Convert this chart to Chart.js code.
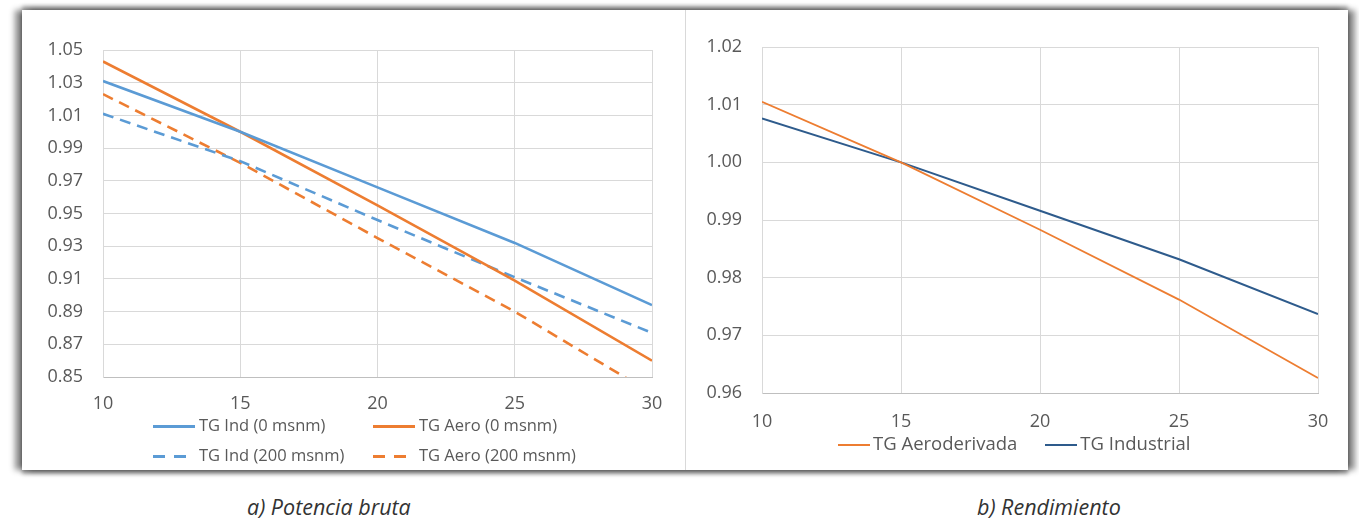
<!DOCTYPE html>
<html>
<head>
<meta charset="utf-8">
<script src="https://cdn.jsdelivr.net/npm/chart.js@4/dist/chart.umd.min.js"></script>
<style>
  body { margin: 0; background: #fff; width: 1359px; height: 519px; position: relative; overflow: hidden; font-family: "Open Sans", sans-serif; }
  #frame { position: absolute; left: 22px; top: 10px; width: 1326px; height: 460px; background: #fff;
           box-shadow: -7px 0 6px rgba(0,0,0,.45), 7px 0 6px rgba(0,0,0,.45), 0 -4px 4px rgba(0,0,0,.3), 0 4px 4px rgba(0,0,0,.35); }
  #divider { position: absolute; left: 663px; top: 0; width: 1px; height: 460px; background: #d9d9d9; }
  .box { position: absolute; top: 0; height: 460px; }
  .lg { position: absolute; color: #595959; white-space: nowrap; }
  .item { position: absolute; height: 30px; line-height: 30px; }
  .sample { display: inline-block; vertical-align: middle; height: 3px; margin-right: 4px; }
  .cap { position: absolute; top: 492px; font-size: 21.5px; line-height: 30px; font-style: italic; color: #333; }
</style>
</head>
<body>
<div id="frame">
  <div class="box" style="left:0;width:663px"><canvas id="chartA"></canvas></div>
  <div id="divider"></div>
  <div class="box" style="left:664px;width:662px"><canvas id="chartB"></canvas></div>
</div>
<div class="lg" id="legendA"></div>
<div class="lg" id="legendB"></div>
<div class="cap" style="left:247px">a) Potencia bruta</div>
<div class="cap" style="left:977px">b) Rendimiento</div>

<script>
// ---------- datos ----------
var temps = [10, 15, 20, 25, 30];

// a) Potencia bruta
var indSea   = [1.031, 1.000, 0.966, 0.932, 0.894];
var aeroSea  = [1.043, 1.000, 0.955, 0.909, 0.860];
var ind200   = [1.011, 0.982, 0.946, 0.911, 0.877];
var aero200  = [1.023, 0.981, 0.935, 0.890, 0.840];
var ticksA   = [0.85, 0.87, 0.89, 0.91, 0.93, 0.95, 0.97, 0.99, 1.01, 1.03, 1.05];

// b) Rendimiento
var aeroRend = [1.0105, 1.000, 0.9883, 0.9762, 0.9626];
var indRend  = [1.0076, 1.000, 0.9916, 0.9832, 0.9737];
var ticksB   = [0.96, 0.97, 0.98, 0.99, 1.00, 1.01, 1.02];

var xTicks = [10, 15, 20, 25, 30];

var blue = "#5B9BD5", orange = "#ED7D31", navy = "#2E5B8C";

function pts(ys) {
  return temps.map(function (t, i) { return { x: t, y: ys[i] }; });
}

function serie(label, ys, color, width, dash) {
  return { label: label, data: pts(ys), borderColor: color, backgroundColor: color,
           borderWidth: width, borderDash: dash || [], pointRadius: 0, tension: 0, clip: 0 };
}

function buildOptions(yTicks, yWidth, xHeight, xPad, padRight, padTop) {
  return {
    responsive: false,
    animation: false,
    layout: { padding: { left: 0, right: padRight, top: padTop, bottom: 0 } },
    plugins: { legend: { display: false }, tooltip: { enabled: false } },
    scales: {
      x: {
        type: "linear", min: 10, max: 30,
        afterBuildTicks: function (s) { s.ticks = xTicks.map(function (v) { return { value: v }; }); },
        afterFit: function (s) { s.height = xHeight; },
        grid: { color: "#d9d9d9", drawTicks: false },
        border: { color: "#bfbfbf" },
        ticks: { padding: xPad, color: "#595959", font: { family: "Open Sans", size: 18 } }
      },
      y: {
        min: yTicks[0], max: yTicks[yTicks.length - 1],
        afterBuildTicks: function (s) { s.ticks = yTicks.map(function (v) { return { value: v }; }); },
        afterFit: function (s) { s.width = yWidth; },
        grid: { color: "#d9d9d9", drawTicks: false },
        border: { color: "#d9d9d9" },
        ticks: { padding: 20, color: "#595959", font: { family: "Open Sans", size: 18 },
                 callback: function (v) { return Number(v).toFixed(2); } }
      }
    }
  };
}

var cA = document.getElementById("chartA");
cA.width = 663; cA.height = 460;
var dsA = [
  serie("TG Ind (0 msnm)", indSea, blue, 2.6),
  serie("TG Aero (0 msnm)", aeroSea, orange, 2.6),
  serie("TG Ind (200 msnm)", ind200, blue, 2.6, [11, 7]),
  serie("TG Aero (200 msnm)", aero200, orange, 2.6, [11, 7])
];
new Chart(cA, { type: "line", data: { datasets: dsA }, options: buildOptions(ticksA, 81, 93, 16, 33, 40) });

var cB = document.getElementById("chartB");
cB.width = 662; cB.height = 460;
var dsB = [
  serie("TG Aeroderivada", aeroRend, orange, 1.8),
  serie("TG Industrial", indRend, navy, 2)
];
new Chart(cB, { type: "line", data: { datasets: dsB }, options: buildOptions(ticksB, 76, 77, 18, 30, 37) });

// ---------- leyendas ----------
function sampleStyle(ds) {
  if (ds.borderDash.length) {
    return "width:42px;background:repeating-linear-gradient(90deg," + ds.borderColor + " 0 12px,transparent 12px 21px)";
  }
  return "width:42px;background:" + ds.borderColor;
}

var legA = document.getElementById("legendA");
legA.style.left = "153px"; legA.style.top = "410px"; legA.style.fontSize = "16.5px";
var posA = [[0, 0], [220, 0], [0, 30], [220, 30]];
dsA.forEach(function (ds, i) {
  legA.innerHTML += '<div class="item" style="left:' + posA[i][0] + 'px;top:' + posA[i][1] + 'px">' +
    '<span class="sample" style="' + sampleStyle(ds) + '"></span>' + ds.label + '</div>';
});

var legB = document.getElementById("legendB");
legB.style.left = "838px"; legB.style.top = "428px"; legB.style.fontSize = "18.5px";
legB.style.display = "flex"; legB.style.gap = "28px";
dsB.forEach(function (ds) {
  legB.innerHTML += '<div style="height:30px;line-height:30px">' +
    '<span class="sample" style="width:32px;height:2px;margin-right:3px;background:' + ds.borderColor + '"></span>' + ds.label + '</div>';
});
</script>
</body>
</html>
